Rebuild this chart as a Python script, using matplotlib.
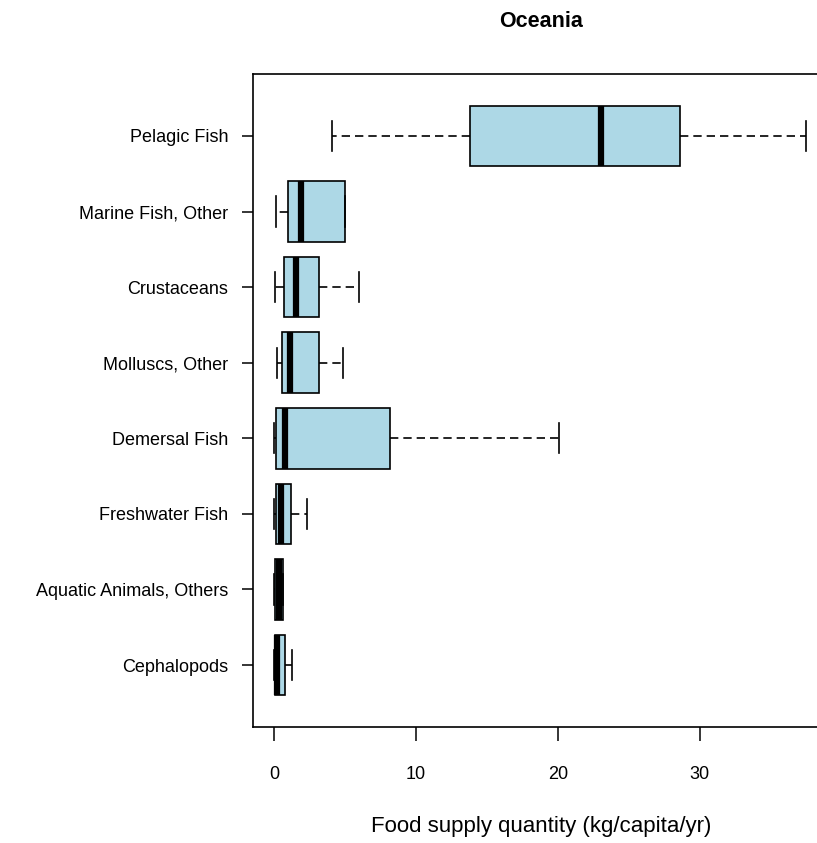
import matplotlib
matplotlib.use("Agg")
import matplotlib.pyplot as plt

plt.rcParams['font.family'] = ['Liberation Sans', 'DejaVu Sans']

# groups from bottom to top
groups = ["Cephalopods", "Aquatic Animals, Others", "Freshwater Fish", "Demersal Fish",
          "Molluscs, Other", "Crustaceans", "Marine Fish, Other", "Pelagic Fish"]
whislo = [0.0, 0.0, 0.0, 0.0, 0.16, 0.02, 0.14, 4.05]
q1 = [0.02, 0.03, 0.14, 0.14, 0.56, 0.70, 0.94, 13.8]
med = [0.2, 0.35, 0.45, 0.73, 1.08, 1.5, 1.9, 23.0]
q3 = [0.75, 0.58, 1.15, 8.17, 3.15, 3.15, 5.0, 28.6]
whishi = [1.22, 0.58, 2.3, 20.1, 4.85, 6.0, 5.0, 37.5]

stats = []
for i in range(len(groups)):
    stats.append({"whislo": whislo[i], "q1": q1[i], "med": med[i], "q3": q3[i],
                  "whishi": whishi[i], "fliers": [], "label": groups[i]})

fig = plt.figure(figsize=(8.17, 8.43), dpi=100)
ax = fig.add_axes([253/817, 1-727/843, (829-253)/817, (727-74)/843])

ax.bxp(stats, positions=range(1, 9), vert=False, widths=0.8, capwidths=0.4,
       patch_artist=True, showfliers=False,
       boxprops=dict(facecolor="#ADD8E6", edgecolor="black", linewidth=1.2),
       medianprops=dict(color="black", linewidth=4.5, solid_capstyle="butt"),
       whiskerprops=dict(color="black", linewidth=1.2, linestyle=(0, (5, 3))),
       capprops=dict(color="black", linewidth=1.2))

ax.set_xlim(-1.5, 39.1)
ax.set_ylim(0.18, 8.82)
ax.set_xticks([0, 10, 20, 30])
ax.set_yticks(range(1, 9))
ax.set_yticklabels(groups)
ax.tick_params(axis="x", length=10, width=1.1, pad=18, labelsize=13)
ax.tick_params(axis="y", length=8, width=1.1, pad=10, labelsize=13)
for s in ax.spines.values():
    s.set_linewidth(1.2)

ax.set_title("Oceania", fontsize=15.5, fontweight="bold", pad=34)
ax.set_xlabel("Food supply quantity (kg/capita/yr)", fontsize=16, labelpad=24)

fig.savefig("out.png", dpi=100)
